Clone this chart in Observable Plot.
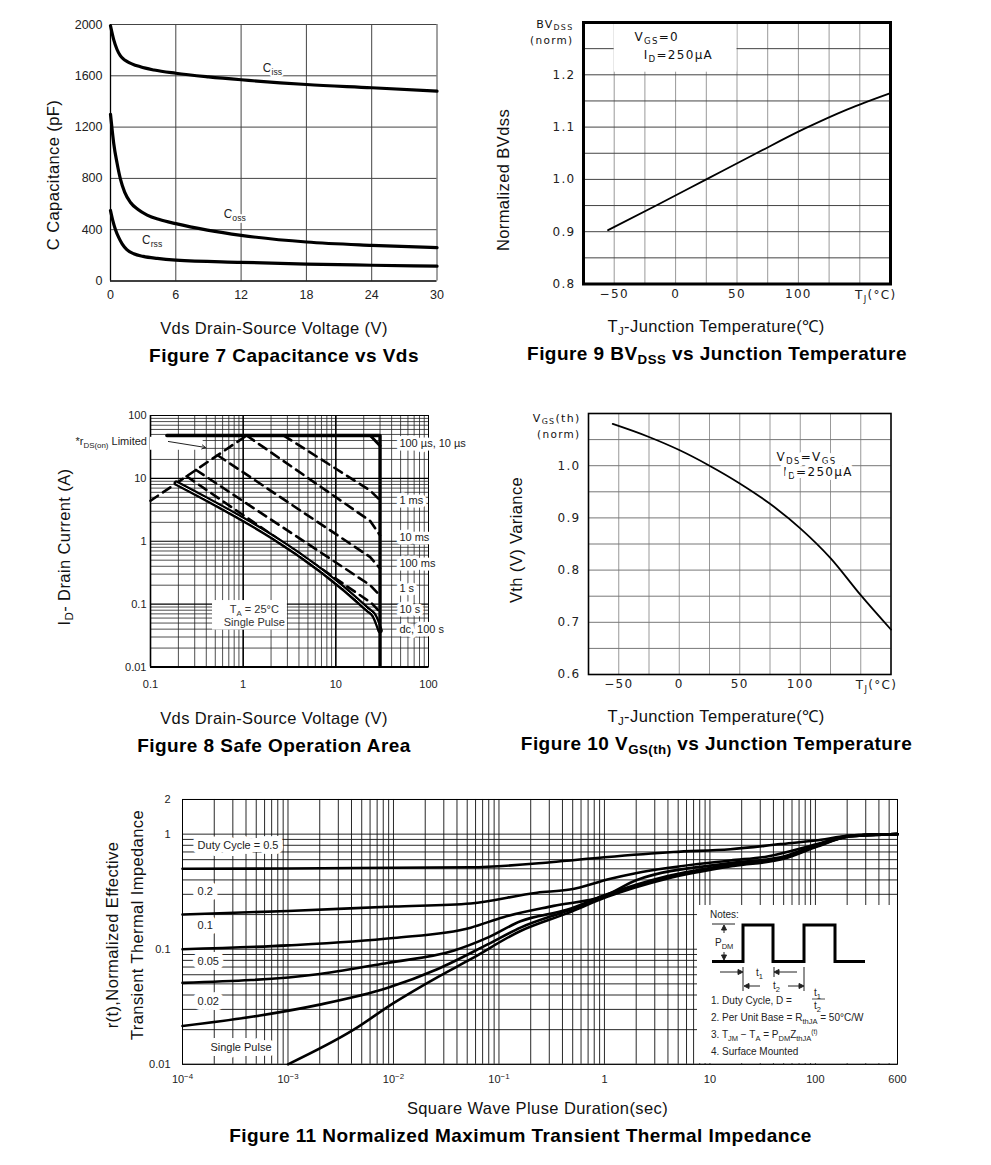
<!DOCTYPE html>
<html><head><meta charset="utf-8">
<script src="https://cdn.jsdelivr.net/npm/d3@7"></script>
<script src="https://cdn.jsdelivr.net/npm/@observablehq/plot@0.6"></script>
<style>
html,body{margin:0;padding:0;background:#fff;}
#page{position:relative;width:991px;height:1165px;overflow:hidden;font-family:"Liberation Sans",Arial,sans-serif;color:#111;}
.lab{position:absolute;white-space:nowrap;transform:translate(-50%,-50%);font-size:16.5px;letter-spacing:0.4px;line-height:1;}
.ttl{font-size:19px;letter-spacing:0.45px;font-weight:bold;color:#000;}
.vlab{transform:translate(-50%,-50%) rotate(-90deg);}
.lab sub{font-size:70%;vertical-align:-0.25em;}
#page svg{position:absolute;overflow:visible;}
</style></head>
<body><div id="page"></div>
<script>
// ================= DATA =================
// Figure 7 : Capacitance vs Vds
const capXTicks = [0, 6, 12, 18, 24, 30];
const capYTicks = [0, 400, 800, 1200, 1600, 2000];
const cissV = [0, 0.3, 0.6, 0.9, 1.2, 1.5, 2.75, 4, 6, 9, 12, 18, 24, 30];
const cissC = [1990, 1880, 1805, 1757, 1730, 1713, 1670, 1645, 1620, 1592, 1569, 1532, 1507, 1480];
const cossV = [0, 0.15, 0.3, 0.6, 0.92, 1.3, 1.84, 2.5, 3.37, 4.5, 6, 8.9, 12, 18, 24, 30];
const cossC = [1300, 1180, 1070, 920, 792, 693, 612, 559, 514, 479, 447, 397, 356, 304, 278, 260];
const crssV = [0, 0.2, 0.46, 0.75, 1.07, 1.5, 2.14, 3, 4.3, 6, 12, 18, 24, 30];
const crssC = [550, 475, 400, 340, 290, 245, 212, 192, 176, 163, 146, 132, 123, 116];
const capLabelText = ["C_{iss}", "C_{oss}", "C_{rss}"];
const capLabelV = [14, 10.4, 2.9];
const capLabelC = [1663, 520, 317];

// Figure 9 : BVdss vs Tj
const bvXTicks = [-50, 0, 50, 100];
const bvYTicks = [0.8, 0.9, 1.0, 1.1, 1.2];
const bvGridX = [-50, -25, 0, 25, 50, 75, 100, 125, 150];
const bvGridY = [0.85, 0.9, 0.95, 1.0, 1.05, 1.1, 1.15, 1.2, 1.25];
const bvT = [-55, -15, 25, 65, 105, 140, 175];
const bvN = [0.903, 0.951, 1.0, 1.049, 1.097, 1.134, 1.165];

// Figure 10 : Vgs(th) vs Tj
const vthXTicks = [-50, 0, 50, 100];
const vthYTicks = [0.6, 0.7, 0.8, 0.9, 1.0];
const vthGridX = [-50, -25, 0, 25, 50, 75, 100, 125, 150];
const vthGridY = [0.65, 0.7, 0.75, 0.8, 0.85, 0.9, 0.95, 1.0, 1.05];
const vthT = [-55, -25, 0, 25, 50, 75, 100, 125, 150, 175];
const vthN = [1.08, 1.055, 1.03, 1.0, 0.966, 0.927, 0.88, 0.823, 0.752, 0.686];

// Figure 8 : Safe operating area
const soaXTicks = [0.1, 1, 10, 100];
const soaYTicks = [0.01, 0.1, 1, 10, 100];
const soaRdsV = [0.1, 1.09],            soaRdsI = [4.4, 48];
const soaLimV = [0.15, 30, 30],          soaLimI = [48, 48, 0.0105];
const soa10usV = [23.5, 30],             soa10usI = [48, 33];
const soa1msV = [2.74, 23.5, 30],        soa1msI = [48, 6.4, 4.5];
const soa10msV = [1.09, 23.5, 30],       soa10msI = [48, 2.1, 1.24];
const soa100msV = [0.53, 23.5, 30],      soa100msI = [23.3, 0.56, 0.37];
const soa1sV = [0.31, 23.5, 30],         soa1sI = [13.6, 0.2, 0.137];
const soa10sV = [0.245, 24, 30],         soa10sI = [10.8, 0.105, 0.075];
const soaDcV = [0.19, 22, 26, 30],       soaDcI = [8.4, 0.082, 0.065, 0.038];
const soaLabelText = ["100 µs, 10 µs", "1 ms", "10 ms", "100 ms", "1 s", "10 s", "dc, 100 s"];
const soaLabelI = [35.5, 4.46, 1.16, 0.44, 0.176, 0.081, 0.039];

// Figure 11 : transient thermal impedance
const thermXTicks = [1e-4, 1e-3, 1e-2, 1e-1, 1, 10, 100, 600];
const thermXTickLabels = ["10^{−4}", "10^{−3}", "10^{−2}", "10^{−1}", "1", "10", "100", "600"];
const thermYTicks = [0.01, 0.1, 1, 2];
const thermYTickLabels = ["0.01", "0.1", "1", "2"];
const d05T = [1e-4, 1e-3, 1e-2, 0.054, 0.31, 1, 4.5, 15.6, 47, 100, 214, 600];
const d05R = [0.50, 0.503, 0.51, 0.515, 0.57, 0.63, 0.70, 0.74, 0.82, 0.88, 0.97, 1.0];
const d02T = [1e-4, 1e-3, 0.01, 0.054, 0.23, 0.47, 1.14, 2.03, 15.6, 35, 104, 214, 600];
const d02R = [0.20, 0.215, 0.235, 0.25, 0.31, 0.33, 0.41, 0.46, 0.59, 0.64, 0.82, 0.97, 1.0];
const d01T = [1e-4, 1e-3, 0.01, 0.054, 0.11, 0.33, 0.99, 2.03, 15.6, 50, 104, 214, 600];
const d01R = [0.1, 0.108, 0.125, 0.154, 0.19, 0.238, 0.29, 0.40, 0.56, 0.64, 0.81, 0.96, 1.0];
const d005T = [1e-4, 2e-3, 8.7e-3, 0.037, 0.078, 0.16, 0.44, 1.06, 3.9, 16.8, 50, 104, 214, 600];
const d005R = [0.051, 0.061, 0.076, 0.097, 0.126, 0.175, 0.22, 0.30, 0.43, 0.55, 0.63, 0.80, 0.96, 1.0];
const d002T = [1e-4, 4.7e-4, 2e-3, 8.7e-3, 0.026, 0.078, 0.16, 0.44, 1.06, 3.9, 16.8, 50, 104, 214, 600];
const d002R = [0.0215, 0.026, 0.033, 0.046, 0.067, 0.11, 0.154, 0.215, 0.29, 0.42, 0.54, 0.62, 0.79, 0.96, 1.0];
const singleT = [1e-3, 4.2e-3, 0.01, 0.026, 0.054, 0.16, 0.44, 1.06, 3.9, 16.8, 50, 104, 214, 600];
const singleR = [0.01, 0.02, 0.034, 0.057, 0.082, 0.144, 0.205, 0.285, 0.41, 0.53, 0.61, 0.78, 0.96, 1.0];
const thermLabelText = ["Duty Cycle = 0.5", "0.2", "0.1", "0.05", "0.02", "Single Pulse"];
const thermLabelT = [1.39e-4, 1.39e-4, 1.39e-4, 1.39e-4, 1.39e-4, 1.84e-4];
const thermLabelR = [0.79, 0.316, 0.16, 0.078, 0.035, 0.0141];

// ================= HELPERS =================
const page = document.getElementById("page");
const zip = (xs, ys) => xs.map((x, i) => ({x, y: ys[i]}));
const lookup = (ticks, labels) => d => {
  const i = ticks.findIndex(t => Math.abs(Math.log10(t) - Math.log10(+d)) < 1e-6);
  return i < 0 ? "" : labels[i];
};
function box(f, m) {
  return {width: f[2] - f[0] + m.left + m.right, height: f[3] - f[1] + m.top + m.bottom,
    marginLeft: m.left, marginRight: m.right, marginTop: m.top, marginBottom: m.bottom};
}
function subify(svg) {
  svg.querySelectorAll("text").forEach(el => {
    if (el.querySelector("tspan")) return;
    const t = el.textContent;
    if (!/[_^]\{/.test(t)) return;
    const fs = parseFloat(getComputedStyle(el).fontSize) || 11;
    el.textContent = "";
    const re = /([_^])\{([^}]*)\}/g;
    let last = 0, m, cur = 0;
    const add = (s, k) => {
      const ts = document.createElementNS("http://www.w3.org/2000/svg", "tspan");
      ts.textContent = s;
      const target = k === "_" ? 0.25 * fs : k === "^" ? -0.4 * fs : 0;
      if (target !== cur) { ts.setAttribute("dy", (target - cur).toFixed(2)); cur = target; }
      if (k) ts.setAttribute("font-size", (0.72 * fs).toFixed(2));
      el.appendChild(ts);
    };
    while ((m = re.exec(t))) { if (m.index > last) add(t.slice(last, m.index)); add(m[2], m[1]); last = re.lastIndex; }
    if (last < t.length) add(t.slice(last));
  });
}
function mount(svg, f, m, spacing) {
  svg.style.left = (f[0] - m.left) + "px";
  svg.style.top = (f[1] - m.top) + "px";
  page.appendChild(svg);
  if (spacing) svg.querySelectorAll("text").forEach(t => t.style.letterSpacing = spacing);
  subify(svg);
}
function addLabel(html, cx, cy, cls) {
  const d = document.createElement("div");
  d.className = "lab " + (cls || "");
  d.innerHTML = html;
  d.style.left = cx + "px"; d.style.top = cy + "px";
  page.appendChild(d);
}
const baseStyle = (size, fam) => ({fontFamily: fam || "'Liberation Sans', Arial, sans-serif", fontSize: size + "px", color: "#222", background: "transparent"});

// ================= FIGURE 7 =================
{
  const f = [110, 24, 436.5, 280.5], m = {left: 60, right: 20, top: 12, bottom: 30};
  const capLab = capLabelText.map((t, i) => ({t, x: capLabelV[i], y: capLabelC[i]}));
  const svg = Plot.plot({
    ...box(f, m), style: baseStyle(12.5),
    x: {domain: [0, 30], ticks: capXTicks, tickFormat: "d", tickSize: 0, tickPadding: 9, label: null},
    y: {domain: [0, 2000], ticks: capYTicks, tickFormat: "d", tickSize: 0, tickPadding: 8, label: null},
    marks: [
      Plot.ruleX(capXTicks.slice(1), {stroke: "#444", strokeWidth: 1}),
      Plot.ruleY(capYTicks.slice(1), {stroke: "#444", strokeWidth: 1}),
      Plot.ruleX([0], {stroke: "#000", strokeWidth: 1.3}),
      Plot.ruleY([0], {stroke: "#000", strokeWidth: 1.3}),
      Plot.line(zip(cissV, cissC), {x: "x", y: "y", stroke: "#000", strokeWidth: 3.2, curve: "monotone-x"}),
      Plot.line(zip(cossV, cossC), {x: "x", y: "y", stroke: "#000", strokeWidth: 3.2, curve: "monotone-x"}),
      Plot.line(zip(crssV, crssC), {x: "x", y: "y", stroke: "#000", strokeWidth: 3.2, curve: "monotone-x"}),
      Plot.text(capLab, {x: "x", y: "y", text: "t", textAnchor: "start", fontSize: 12, fill: "#222", stroke: "white", strokeWidth: 4})
    ]
  });
  mount(svg, f, m);
}

// ================= FIGURE 9 =================
{
  const f = [583, 21.5, 890, 283], m = {left: 70, right: 30, top: 15, bottom: 25};
  const noteBox = [{x1: -50, x2: 50, y1: 1.205, y2: 1.3}];
  const svg = Plot.plot({
    ...box(f, m), style: baseStyle(12, "'DejaVu Sans', sans-serif"),
    x: {domain: [-75, 175], ticks: bvXTicks, tickSize: 0, tickPadding: 5, label: null},
    y: {domain: [0.8, 1.3], ticks: bvYTicks, tickSize: 0, tickPadding: 8, tickFormat: ".1f", label: null},
    marks: [
      Plot.ruleX(bvGridX, {stroke: "#999", strokeWidth: 1}),
      Plot.ruleY(bvGridY, {stroke: "#444", strokeWidth: 1}),
      Plot.rect(noteBox, {x1: "x1", x2: "x2", y1: "y1", y2: "y2", fill: "white"}),
      Plot.line(zip(bvT, bvN), {x: "x", y: "y", stroke: "#000", strokeWidth: 1.8, curve: "monotone-x"}),
      Plot.frame({stroke: "#000", strokeWidth: 3}),
      Plot.text(["V_{GS}=0"], {x: -33.5, y: 1.272, textAnchor: "start", fontSize: 12, fill: "#111"}),
      Plot.text(["I_{D}=250μA"], {x: -26, y: 1.238, textAnchor: "start", fontSize: 12, fill: "#111"}),
      Plot.text(["BV_{DSS}"], {x: -75, y: 1.297, dx: -10, textAnchor: "end", fontSize: 11, fill: "#111"}),
      Plot.text(["(norm)"], {x: -75, y: 1.265, dx: -10, textAnchor: "end", fontSize: 10.5, fill: "#111"}),
      Plot.text(["T_{J}(°C)"], {x: 163, y: 0.8, dy: 11, fontSize: 12, fill: "#222"})
    ]
  });
  mount(svg, f, m, "1.3px");
}

// ================= FIGURE 8 =================
{
  const f = [150, 415, 428, 666.5], m = {left: 80, right: 60, top: 12, bottom: 30};
  const gx = [], gy = [];
  for (let e = -1; e <= 1; e++) for (let k = 2; k <= 9; k++) gx.push(k * 10 ** e);
  for (let e = -2; e <= 1; e++) for (let k = 2; k <= 9; k++) gy.push(k * 10 ** e);
  const soaLab = soaLabelText.map((t, i) => ({t, x: 48.5, y: soaLabelI[i]}));
  const rdsBox = [{x1: 0.1, x2: 0.37, y1: 28, y2: 45}];
  const taBox = [{x1: 0.467, x2: 3.0, y1: 0.0386, y2: 0.114}];
  const dash = {stroke: "#000", strokeWidth: 2.6, strokeDasharray: "9,6"};
  const solid = {stroke: "#000", strokeWidth: 3};
  const svg = Plot.plot({
    ...box(f, m), style: baseStyle(11),
    x: {type: "log", domain: [0.1, 100], ticks: soaXTicks, tickFormat: "~g", tickSize: 0, tickPadding: 13, label: null},
    y: {type: "log", domain: [0.01, 100], ticks: soaYTicks, tickFormat: "~g", tickSize: 0, tickPadding: 4, label: null},
    marks: [
      Plot.ruleX(gx, {stroke: "#222", strokeWidth: 0.8}),
      Plot.ruleY(gy, {stroke: "#222", strokeWidth: 0.8}),
      Plot.ruleX([1, 10], {stroke: "#000", strokeWidth: 1.6}),
      Plot.ruleY([0.1, 1, 10], {stroke: "#000", strokeWidth: 1.1}),
      Plot.frame({stroke: "#000", strokeWidth: 1}),
      Plot.ruleX([0.1], {stroke: "#000", strokeWidth: 1.6}),
      Plot.ruleY([0.01], {stroke: "#000", strokeWidth: 2}),
      Plot.rect(rdsBox, {x1: "x1", x2: "x2", y1: "y1", y2: "y2", fill: "white"}),
      Plot.rect(taBox, {x1: "x1", x2: "x2", y1: "y1", y2: "y2", fill: "white"}),
      Plot.text(soaLab, {x: "x", y: "y", text: "t", textAnchor: "start", fontSize: 11, fill: "#222", stroke: "white", strokeWidth: 7}),
      Plot.text(["*r_{DS(on)} Limited"], {x: 0.0155, y: 38.6, textAnchor: "start", fontSize: 11, fill: "#222"}),
      Plot.arrow([{x1: 0.156, y1: 38.6, x2: 0.392, y2: 31}], {x1: "x1", y1: "y1", x2: "x2", y2: "y2", stroke: "#222", strokeWidth: 1, headLength: 6}),
      Plot.text(["T_{A} = 25°C"], {x: 1.32, y: 0.082, fontSize: 11, fill: "#333"}),
      Plot.text(["Single Pulse"], {x: 1.32, y: 0.051, fontSize: 11, fill: "#333"}),
      Plot.line(zip(soaRdsV, soaRdsI), {x: "x", y: "y", ...dash}),
      Plot.line(zip(soa1msV, soa1msI), {x: "x", y: "y", ...dash}),
      Plot.line(zip(soa10msV, soa10msI), {x: "x", y: "y", ...dash}),
      Plot.line(zip(soa100msV, soa100msI), {x: "x", y: "y", ...dash}),
      Plot.line(zip(soa1sV, soa1sI), {x: "x", y: "y", ...dash}),
      Plot.line(zip(soa10sV, soa10sI), {x: "x", y: "y", ...dash}),
      Plot.line(zip(soaDcV, soaDcI), {x: "x", y: "y", stroke: "#000", strokeWidth: 5.5, curve: "monotone-x"}),
      Plot.line(zip(soaDcV, soaDcI), {x: "x", y: "y", stroke: "#fff", strokeWidth: 1, curve: "monotone-x"}),
      Plot.line(zip(soa10usV, soa10usI), {x: "x", y: "y", ...solid}),
      Plot.line(zip(soaLimV, soaLimI), {x: "x", y: "y", stroke: "#000", strokeWidth: 3.4})
    ]
  });
  mount(svg, f, m);
}

// ================= FIGURE 10 =================
{
  const f = [588, 412.5, 890.5, 673.5], m = {left: 70, right: 30, top: 15, bottom: 25};
  const svg = Plot.plot({
    ...box(f, m), style: baseStyle(12, "'DejaVu Sans', sans-serif"),
    x: {domain: [-75, 175], ticks: vthXTicks, tickSize: 0, tickPadding: 5, label: null},
    y: {domain: [0.6, 1.1], ticks: vthYTicks, tickSize: 0, tickPadding: 8, tickFormat: ".1f", label: null},
    marks: [
      Plot.ruleX(vthGridX, {stroke: "#999", strokeWidth: 1}),
      Plot.ruleY(vthGridY, {stroke: "#777", strokeWidth: 1}),
      Plot.text(["V_{DS}=V_{GS}"], {x: 80.4, y: 1.016, textAnchor: "start", fontSize: 12, fill: "#111", stroke: "white", strokeWidth: 8}),
      Plot.text(["I_{D}=250μA"], {x: 86, y: 0.988, textAnchor: "start", fontSize: 12, fill: "#111", stroke: "white", strokeWidth: 8}),
      Plot.line(zip(vthT, vthN), {x: "x", y: "y", stroke: "#000", strokeWidth: 1.8, curve: "monotone-x"}),
      Plot.frame({stroke: "#000", strokeWidth: 1.6}),
      Plot.text(["V_{GS}(th)"], {x: -75, y: 1.091, dx: -8, textAnchor: "end", fontSize: 11, fill: "#111"}),
      Plot.text(["(norm)"], {x: -75, y: 1.06, dx: -8, textAnchor: "end", fontSize: 10.5, fill: "#111"}),
      Plot.text(["T_{J}(°C)"], {x: 163, y: 0.6, dy: 11, fontSize: 12, fill: "#222"})
    ]
  });
  mount(svg, f, m, "1.3px");
}

// ================= FIGURE 11 =================
{
  const f = [182, 798.5, 897, 1063.3], m = {left: 40, right: 30, top: 12, bottom: 30};
  const gx = [], gy = [];
  for (let e = -4; e <= 2; e++) for (let k = 1; k <= 9; k++) { const v = k * 10 ** e; if (v <= 600) gx.push(v); }
  for (let e = -2; e <= 0; e++) for (let k = 1; k <= 9; k++) { const v = k * 10 ** e; if (v <= 2) gy.push(v); }
  gy.push(2);
  const labs = thermLabelText.map((t, i) => ({t, x: thermLabelT[i], y: thermLabelR[i]}));
  const lw = {stroke: "#000", strokeWidth: 2.6, curve: "monotone-x"};
  const svg = Plot.plot({
    ...box(f, m), style: baseStyle(11),
    x: {type: "log", domain: [1e-4, 600], ticks: thermXTicks, tickFormat: lookup(thermXTicks, thermXTickLabels), tickSize: 0, tickPadding: 11, label: null},
    y: {type: "log", domain: [0.01, 2], ticks: thermYTicks, tickFormat: lookup(thermYTicks, thermYTickLabels), tickSize: 0, tickPadding: 12, label: null},
    marks: [
      Plot.ruleX(gx, {stroke: "#111", strokeWidth: 0.9}),
      Plot.ruleY(gy, {stroke: "#111", strokeWidth: 0.9}),
      Plot.frame({stroke: "#000", strokeWidth: 1}),
      Plot.text(labs, {x: "x", y: "y", text: "t", textAnchor: "start", fontSize: 11, fill: "#222", stroke: "white", strokeWidth: 10}),
      Plot.line(zip(d05T, d05R), {x: "x", y: "y", ...lw}),
      Plot.line(zip(d02T, d02R), {x: "x", y: "y", ...lw}),
      Plot.line(zip(d01T, d01R), {x: "x", y: "y", ...lw}),
      Plot.line(zip(d005T, d005R), {x: "x", y: "y", ...lw}),
      Plot.line(zip(d002T, d002R), {x: "x", y: "y", ...lw}),
      Plot.line(zip(singleT, singleR), {x: "x", y: "y", ...lw})
    ]
  });
  mount(svg, f, m);
  // make sure the last tick label (600) is present
  const have = [...svg.querySelectorAll("text")].some(t => t.textContent === "600");
  if (!have) {
    const extra = Plot.plot({
      ...box(f, m), style: baseStyle(11),
      x: {type: "log", domain: [1e-4, 600], axis: null}, y: {type: "log", domain: [0.01, 2], axis: null},
      marks: [Plot.text([thermXTicks[7]], {x: d => d, y: 0.01, text: () => thermXTickLabels[7], dy: 11, lineAnchor: "top", fontSize: 11, fill: "#222"})]
    });
    mount(extra, f, m);
  }
}

// Notes inset of figure 11
{
  const ns = "http://www.w3.org/2000/svg";
  const svg = document.createElementNS(ns, "svg");
  svg.setAttribute("width", 200); svg.setAttribute("height", 158);
  svg.style.left = "697px"; svg.style.top = "905px";
  svg.innerHTML = `
  <rect x="0" y="0" width="200" height="158" fill="#fff"/>
  <g font-family="'Liberation Sans', Arial, sans-serif" font-size="10" fill="#222">
    <text x="13" y="13">Notes:</text>
    <text x="18" y="41">P<tspan font-size="7.5" dy="2.5">DM</tspan></text>
    <text x="59" y="71">t<tspan font-size="7.5" dy="2.5">1</tspan></text>
    <text x="76" y="84">t<tspan font-size="7.5" dy="2.5">2</tspan></text>
    <text x="14" y="99">1. Duty Cycle, D =</text>
    <text x="117" y="91">t<tspan font-size="7.5" dy="2.5">1</tspan></text>
    <text x="117" y="104">t<tspan font-size="7.5" dy="2.5">2</tspan></text>
    <text x="14" y="116">2. Per Unit Base = R<tspan font-size="7.5" dy="2.5">thJA</tspan><tspan dy="-2.5"> = 50°C/W</tspan></text>
    <text x="14" y="133">3. T<tspan font-size="7.5" dy="2.5">JM</tspan><tspan dy="-2.5"> − T</tspan><tspan font-size="7.5" dy="2.5">A</tspan><tspan dy="-2.5"> = P</tspan><tspan font-size="7.5" dy="2.5">DM</tspan><tspan dy="-2.5">Z</tspan><tspan font-size="7.5" dy="2.5">thJA</tspan><tspan font-size="6.5" dy="-6.5">(t)</tspan></text>
    <text x="14" y="150">4. Surface Mounted</text>
  </g>
  <line x1="115" y1="94" x2="128" y2="94" stroke="#222" stroke-width="0.8"/>
  <polyline points="15,56.5 46,56.5 46,20 76,20 76,56.5 107,56.5 107,20 138,20 138,56.5 168,56.5" fill="none" stroke="#000" stroke-width="3"/>
  <g stroke="#222" stroke-width="1" fill="#222">
    <line x1="15" y1="19" x2="38" y2="19"/>
    <line x1="27" y1="21" x2="27" y2="28"/><path d="M27,20 l-2.5,5 h5 z"/>
    <line x1="27" y1="47" x2="27" y2="54"/><path d="M27,55 l-2.5,-5 h5 z"/>
    <line x1="23" y1="67" x2="44" y2="67"/><path d="M46,67 l-5,-2.5 v5 z"/>
    <line x1="46" y1="62" x2="46" y2="86"/>
    <line x1="80" y1="67" x2="100" y2="67"/><path d="M77,67 l5,-2.5 v5 z"/>
    <line x1="77" y1="62" x2="77" y2="72"/>
    <line x1="50" y1="81" x2="63" y2="81"/><path d="M47,81 l5,-2.5 v5 z"/>
    <line x1="91" y1="81" x2="104" y2="81"/><path d="M107,81 l-5,-2.5 v5 z"/>
    <line x1="107" y1="62" x2="107" y2="86"/>
  </g>`;
  page.appendChild(svg);
}

// ================= AXIS LABELS & TITLES =================
addLabel("Vds Drain-Source Voltage (V)", 274, 328);
addLabel("Figure 7 Capacitance vs Vds", 284, 355, "ttl");
addLabel("T<sub>J</sub>-Junction Temperature(℃)", 716, 328);
addLabel("Figure 9 BV<sub>DSS</sub> vs Junction Temperature", 717, 355, "ttl");
addLabel("Vds Drain-Source Voltage (V)", 274, 718);
addLabel("Figure 8 Safe Operation Area", 274, 745, "ttl");
addLabel("T<sub>J</sub>-Junction Temperature(℃)", 716, 718);
addLabel("Figure 10 V<sub>GS(th)</sub> vs Junction Temperature", 716.5, 745, "ttl");
addLabel("Square Wave Pluse Duration(sec)", 537.5, 1108);
addLabel("Figure 11 Normalized Maximum Transient Thermal Impedance", 520.5, 1135, "ttl");
addLabel("C Capacitance (pF)", 53, 175, "vlab");
addLabel("Normalized BVdss", 503, 180, "vlab");
addLabel("I<sub>D</sub>- Drain Current (A)", 66, 547, "vlab");
addLabel("Vth (V) Variance", 516, 540, "vlab");
addLabel("r(t),Normalized Effective", 112, 935, "vlab");
addLabel("Transient Thermal Impedance", 137, 925, "vlab");
</script></body></html>
